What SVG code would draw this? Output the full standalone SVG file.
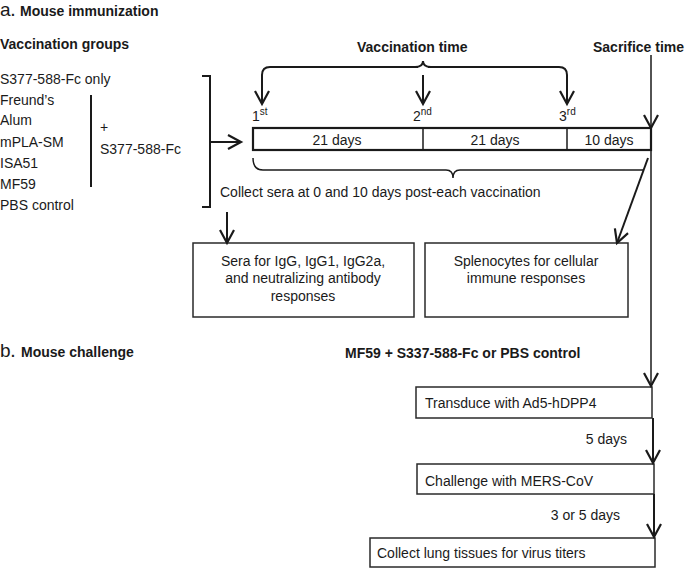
<svg xmlns="http://www.w3.org/2000/svg" width="685" height="568" viewBox="0 0 685 568">
<defs>
<marker id="ah" markerUnits="userSpaceOnUse" markerWidth="18" markerHeight="18" viewBox="0 0 18 18" refX="15" refY="9" orient="auto">
<path d="M2,2 L15,9 L2,16" fill="none" stroke="#1a1a1a" stroke-width="2.2"/>
</marker>
</defs>
<style>
text{font-family:"Liberation Sans",Arial,sans-serif;fill:#1a1a1a;font-size:14px}
.b{font-weight:bold}
.big{font-size:19px}
.sup{font-size:10px}
.box{fill:#fff;stroke:#2a2a2a;stroke-width:1.5}
.bar{fill:#fff;stroke:#1a1a1a;stroke-width:2.2}
.ln{fill:none;stroke:#1a1a1a;stroke-width:2}
.th{fill:none;stroke:#1a1a1a;stroke-width:1.5}
.m{text-anchor:middle}
.e{text-anchor:end}
</style>

<g id="titles">
<text x="0" y="16" class="big">a</text><text x="11" y="16" class="b">.</text><text x="20" y="16" class="b">Mouse immunization</text>
<text x="0" y="49" class="b">Vaccination groups</text>
<text x="357" y="52" class="b">Vaccination time</text>
<text x="593" y="52" class="b">Sacrifice time</text>
<text x="0" y="357" class="big">b</text><text x="11" y="357" class="b">.</text><text x="21" y="357" class="b">Mouse challenge</text>
<text x="345" y="358" class="b">MF59 + S337-588-Fc or PBS control</text>
</g>

<g id="groups">
<text x="0" y="84">S377-588-Fc only</text>
<text x="0" y="105">Freund’s</text>
<text x="0" y="125">Alum</text>
<text x="0" y="147">mPLA-SM</text>
<text x="0" y="168">ISA51</text>
<text x="0" y="189">MF59</text>
<text x="0" y="210">PBS control</text>
<line x1="91" y1="95" x2="91" y2="187" class="ln"/>
<text x="100" y="132">+</text>
<text x="100" y="154">S377-588-Fc</text>
<path d="M202,76 L210,76 L210,207 L202,207" class="ln"/>
</g>

<g id="timeline">
<rect x="253" y="128" width="398" height="22" class="bar"/>
<line x1="423" y1="128" x2="423" y2="150" class="th"/>
<line x1="567" y1="128" x2="567" y2="150" class="th"/>
<text x="337" y="145" class="m">21 days</text>
<text x="495" y="145" class="m">21 days</text>
<text x="609" y="145" class="m">10 days</text>
<text x="252" y="121">1<tspan class="sup" dy="-6">st</tspan></text>
<text x="413" y="121">2<tspan class="sup" dy="-6">nd</tspan></text>
<text x="559" y="121">3<tspan class="sup" dy="-6">rd</tspan></text>
<text x="220" y="197">Collect sera at 0 and 10 days post-each vaccination</text>
</g>

<g id="box-sera">
<rect x="193" y="243" width="221" height="74" class="box"/>
<text x="303" y="266" class="m">Sera for IgG, IgG1, IgG2a,</text>
<text x="303" y="283" class="m">and neutralizing antibody</text>
<text x="303" y="301" class="m">responses</text>
</g>

<g id="box-spleno">
<rect x="425" y="243" width="203" height="74" class="box"/>
<text x="526" y="266" class="m">Splenocytes for cellular</text>
<text x="526" y="283" class="m">immune responses</text>
</g>

<g id="box-transduce">
<rect x="416" y="387" width="236" height="31" class="box"/>
<text x="425" y="408">Transduce with Ad5-hDPP4</text>
</g>
<g id="box-challenge">
<rect x="417" y="464" width="237" height="30" class="box"/>
<text x="425" y="486">Challenge with MERS-CoV</text>
</g>
<g id="box-collect">
<rect x="370" y="538" width="285" height="29" class="box"/>
<text x="377" y="558">Collect lung tissues for virus titers</text>
</g>

<g id="connectors">
<line x1="210" y1="142" x2="241" y2="142" class="ln" marker-end="url(#ah)"/>
<path d="M418,67 L270,67 Q262,67 262,75 L262,104" class="ln" marker-end="url(#ah)"/>
<path d="M428,67 L559,67 Q567,67 567,75 L567,104" class="ln" marker-end="url(#ah)"/>
<path d="M415,67 Q423,67 423,61 Q423,67 431,67" class="ln"/>
<line x1="423" y1="75" x2="423" y2="104" class="ln" marker-end="url(#ah)"/>
<line x1="651" y1="55" x2="651" y2="128" class="th" marker-end="url(#ah)"/>
<line x1="651" y1="128" x2="651" y2="386" class="th" marker-end="url(#ah)"/>
<path d="M253,158 Q253,170 263,170 L446,170 Q453,170 453,178 Q453,170 460,170 L644,170" class="th"/>
<line x1="648" y1="158" x2="617" y2="243" class="ln" marker-end="url(#ah)"/>
<line x1="227" y1="212" x2="227" y2="243" class="ln" marker-end="url(#ah)"/>
<line x1="653" y1="418" x2="653" y2="463" class="ln" marker-end="url(#ah)"/>
<line x1="654" y1="494" x2="654" y2="537" class="ln" marker-end="url(#ah)"/>
<text x="627" y="444" class="e">5 days</text>
<text x="620" y="520" class="e">3 or 5 days</text>
</g>
</svg>
